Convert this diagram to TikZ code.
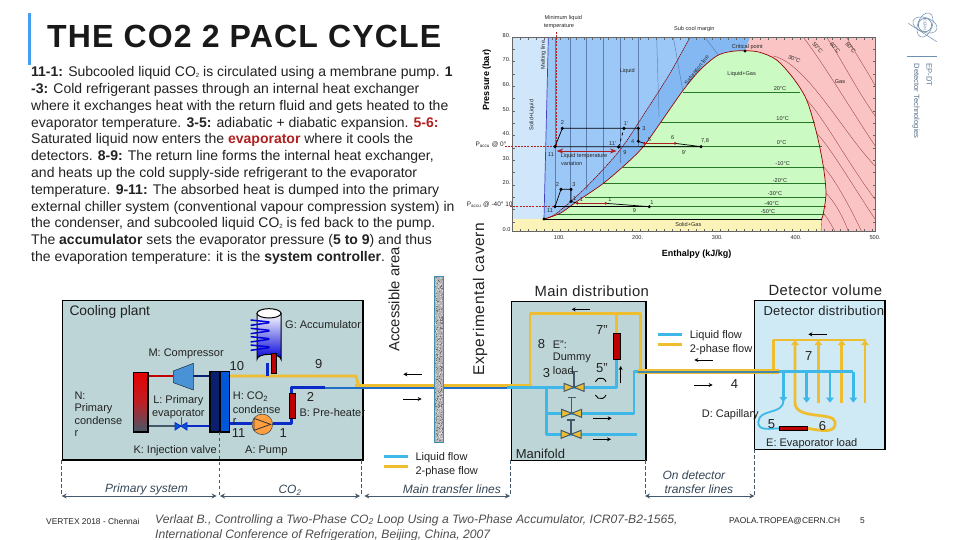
\documentclass[tikz,border=0pt]{standalone}
\usepackage{fontspec}
\setmainfont{Liberation Sans}
\usetikzlibrary{arrows.meta}
\definecolor{plantbg}{HTML}{BDD5D6}
\definecolor{detbg}{HTML}{CFE9F5}
\definecolor{liq}{HTML}{3DB8E8}
\definecolor{twoph}{HTML}{EFBE30}
\definecolor{navy}{HTML}{0A1F6E}
\definecolor{pipeb}{HTML}{0A2BC8}
\definecolor{dimc}{HTML}{44596B}
\definecolor{bordo}{HTML}{B02020}
\definecolor{logoc}{HTML}{6F8FAF}
\definecolor{txt}{HTML}{222222}
\definecolor{liqa}{HTML}{9CC8F8}
\definecolor{liqb}{HTML}{84B8F2}
\definecolor{solliq}{HTML}{CFE6FB}
\definecolor{gasp}{HTML}{FBC4C4}
\definecolor{domeg}{HTML}{CBFBC3}
\definecolor{solgas}{HTML}{FBF3B8}
\definecolor{lqisoc}{HTML}{5F7FB0}
\definecolor{mainblue}{HTML}{1F6FC8}
\tikzset{
 lab/.style={inner sep=0pt,anchor=west,text=txt,font=\fontsize{11}{12}\selectfont},
 big/.style={lab,font=\fontsize{14.8}{16}\selectfont\addfontfeature{LetterSpace=3}},
 num/.style={lab,font=\fontsize{13}{15}\selectfont},
 ital/.style={lab,font=\fontsize{12}{13}\selectfont\itshape,text=dimc!80!black},
 ct/.style={inner sep=0pt,text=black!85,font=\fontsize{5.6}{7}\selectfont},
 z1/.style={shift={(460pt,0pt)},x=0.33333pt,y=-0.33333pt},
 z2/.style={shift={(50pt,-290pt)},x=0.33333pt,y=-0.33333pt},
 z3/.style={shift={(500pt,-280pt)},x=0.33333pt,y=-0.33333pt},
 z5/.style={shift={(890pt,-5pt)},x=0.33333pt,y=-0.33333pt},
 z7/.style={shift={(130pt,-300pt)},x=0.33333pt,y=-0.33333pt},
 pipe/.style={line width=2.8pt,line join=round},
 lq/.style={pipe,draw=liq},
 tp/.style={pipe,draw=twoph},
 nv/.style={pipe,draw=pipeb},
 thinlq/.style={line width=2.4pt,draw=liq,line join=round},
 uptip/.style={-{Triangle[length=5pt,width=7.5pt]}},
 flow/.style={line width=1pt,-{Stealth[length=4pt,width=4pt]},black},
 dimline/.style={line width=1pt,dimc,{Stealth[length=5pt,width=5pt]}-{Stealth[length=5pt,width=5pt]}},
 dimdash/.style={line width=1pt,dimc,dash pattern=on 3.5pt off 2.5pt},
 heater/.style={fill=red!75!black,draw=black,line width=1pt},
 box/.style={draw=black,line width=1.4pt},
 iso/.style={line width=0.5pt,draw=black!55!green!70!gray},
 lqiso/.style={line width=0.45pt,draw=lqisoc},
 gasiso/.style={line width=0.35pt,draw=black!55!red!75},
 cyc/.style={line width=0.7pt,draw=black},
 hot/.style={line width=0.8pt,draw=bordo},
 pt/.style={circle,fill=black,inner sep=0pt,minimum size=3.4pt},
 ptr/.style={circle,fill=bordo,inner sep=0pt,minimum size=3pt},
 refd/.style={line width=0.7pt,draw=bordo,dashed,dash pattern=on 2pt off 1.2pt}
}
\newcommand{\myvalve}[3]{%
 \draw[line width=1.1pt,dimc] (#1,#2) -- (#1,#3);
 \draw[line width=1.1pt,dimc] ({#1-12},#3) -- ({#1+12},#3);
 \fill[twoph] ({#1-30},{#2-12}) -- (#1,#2) -- ({#1-30},{#2+12}) -- cycle;
 \fill[twoph] ({#1+30},{#2-12}) -- (#1,#2) -- ({#1+30},{#2+12}) -- cycle;
 \draw[line width=1pt,dimc] ({#1-30},{#2-12}) -- ({#1+30},{#2+12}) -- ({#1+30},{#2-12}) -- ({#1-30},{#2+12}) -- cycle;
}
\begin{document}
\begin{tikzpicture}[x=1pt,y=-1pt]
\useasboundingbox (0,0) rectangle (960,540);
\fill[white] (0,0) rectangle (960,540);

% ---------- title and text
\fill[liq!80!blue!90] (28,13) rectangle (31,65);
\node[inner sep=0pt,anchor=west,font=\fontsize{32}{36}\selectfont\bfseries\addfontfeature{LetterSpace=3.7},text=black!90] (title) at (47,36) {THE CO2 2 PACL CYCLE};
\node[inner sep=0pt,anchor=north west,align=left,text=txt,font=\fontsize{14}{16.8}\selectfont] (body) at (31,66.3) {%
\textbf{11-1:} Subcooled liquid CO{\raisebox{-0.5pt}{\fontsize{6}{6}\selectfont 2}} is circulated using a membrane pump. \textbf{1}\\
\textbf{-3:} Cold refrigerant passes through an internal heat exchanger\\
where it exchanges heat with the return fluid and gets heated to the\\
evaporator temperature. \textbf{3-5:} adiabatic + diabatic expansion. \textcolor{bordo}{\textbf{5-6:}}\\
Saturated liquid now enters the \textcolor{bordo}{\textbf{evaporator}} where it cools the\\
detectors. \textbf{8-9:} The return line forms the internal heat exchanger,\\
and heats up the cold supply-side refrigerant to the evaporator\\
temperature. \textbf{9-11:} The absorbed heat is dumped into the primary\\
external chiller system (conventional vapour compression system) in\\
the condenser, and subcooled liquid CO{\raisebox{-0.5pt}{\fontsize{6}{6}\selectfont 2}} is fed back to the pump.\\
The \textbf{accumulator} sets the evaporator pressure (\textbf{5 to 9}) and thus\\
the evaporation temperature: it is the \textbf{system controller}.};

% ---------- chart
\begin{scope}[z1]
\fill[gasp] (157,112) rectangle (1247,695);
\fill[liqb] plot[smooth] coordinates {(252,657) (300,640) (350,605) (430,550) (500,490) (550,440) (600,370) (670,270) (720,210) (770,168) (810,155) (855,152)} -- (870,112) -- (265,112) -- cycle;
\fill[liqa] plot[smooth] coordinates {(252,657) (290,640) (380,560) (480,450) (560,330) (630,220) (690,112)} -- (265,112) -- cycle;
\fill[solliq] (157,112) -- (265,112) -- (252,657) -- (157,657) -- cycle;
\fill[solgas] (157,657) -- (1085,657) -- (1083,695) -- (157,695) -- cycle;
\fill[domeg] plot[smooth] coordinates {(252,657) (300,640) (350,605) (430,550) (500,490) (550,440) (600,370) (670,270) (720,210) (770,168) (810,155) (855,152) (900,157) (950,180) (1000,235) (1040,300) (1070,400) (1090,500) (1098,580) (1090,640) (1085,657)} -- cycle;
% liquid isotherms
\foreach \a/\b/\c/\d in {285/112/285/620,330/112/330/600,378/112/378/570,430/112/430/550,480/112/480/490,535/112/535/440,590/112/597/350,640/112/668/270,735/112/775/165}
  \draw[lqiso] (\a,\b) -- (\c,\d);
% two-phase isotherms
\foreach \y/\a/\b in {277/670/1020,366/600/1065,440/540/1085,502/490/1092,550/430/1095,592/375/1097,620/330/1098,643/290/1095}
  \draw[iso] (\a,\y) -- (\b,\y);
% gas isotherms
\draw[gasiso] (940,168) .. controls (1040,190) and (1150,400) .. (1247,500);
\draw[gasiso] (1040,300) .. controls (1090,350) and (1170,500) .. (1247,600);
\draw[gasiso] (1070,400) .. controls (1110,440) and (1180,560) .. (1247,660);
\draw[gasiso] (1090,500) .. controls (1120,530) and (1170,620) .. (1205,695);
\draw[gasiso] (1098,580) .. controls (1120,600) and (1150,650) .. (1165,695);
\draw[gasiso] (1090,640) .. controls (1100,650) and (1115,675) .. (1125,695);
\draw[gasiso] (1030,112) .. controls (1090,190) and (1180,340) .. (1247,440);
\draw[gasiso] (1100,112) .. controls (1140,170) and (1190,270) .. (1247,350);
\draw[gasiso] (1160,112) .. controls (1180,150) and (1220,210) .. (1247,260);
\draw[gasiso] (1083,695) -- (1085,657);
% boundaries
\draw[line width=0.7pt,blue!50!gray] (265,112) -- (252,657);
\draw[line width=0.6pt,draw=red!50!black,dash pattern=on 1.5pt off 0.6pt] plot[smooth] coordinates {(252,657) (290,640) (380,560) (480,450) (560,330) (630,220) (690,112)};
\draw[line width=0.7pt,red!60!black] plot[smooth] coordinates {(252,657) (300,640) (350,605) (430,550) (500,490) (550,440) (600,370) (670,270) (720,210) (770,168) (810,155) (855,152) (900,157) (950,180) (1000,235) (1040,300) (1070,400) (1090,500) (1098,580) (1090,640) (1085,657)};
\draw[line width=0.6pt,black] (252,657) -- (1085,657);
% frame and ticks
\draw[line width=0.5pt,black!60] (157,112) rectangle (1247,695);
\foreach \x in {180,204,...,1247} {\draw[line width=0.4pt,black!60] (\x,112) -- (\x,120); \draw[line width=0.4pt,black!60] (\x,695) -- (\x,687);}
\foreach \y in {148,185,...,680} {\draw[line width=0.4pt,black!60] (157,\y) -- (166,\y); \draw[line width=0.4pt,black!60] (1247,\y) -- (1238,\y);}
% tick labels
\foreach \v/\y in {80./107,70./180,60./255,50./328,40./400,30./476,20./548} \node[ct,anchor=east] (yt\v) at (152,\y) {\v};
\node[ct,anchor=east] (yt0) at (152,690) {0.0};
\foreach \v/\x in {100./298,200./533,300./772,400./1008,500./1245} \node[ct] (xt\v) at (\x,712) {\v};
\node[inner sep=0pt,rotate=90,font=\fontsize{9}{10}\selectfont\bfseries] (pax) at (80,240) {Pressure (bar)};
\node[inner sep=0pt,font=\fontsize{9}{10}\selectfont\bfseries] (hax) at (710,762) {Enthalpy (kJ/kg)};
% reference dashes
\draw[refd] (135,440) -- (285,440);
\draw[refd] (150,620) -- (285,620);
\draw[refd] (288,95) -- (288,440);
% cycle 0 deg
\coordinate (a11) at (285,440); \coordinate (a2) at (307,385); \coordinate (a1p) at (492,385); \coordinate (a3) at (535,385);
\coordinate (a4) at (535,424); \coordinate (a5) at (553,430); \coordinate (a6) at (645,430); \coordinate (a7) at (723,440); \coordinate (a9) at (476,441);
\draw[cyc] (a11) -- (a2) -- (a3) -- (a4) -- (a5);
\draw[hot] (a5) -- (a6);
\draw[cyc] (a6) -- (a7) -- (a11);
\draw[cyc,dashed] (a9) -- (a1p);
\draw[hot,<->,>=Stealth] (290,453) -- (470,453);
\foreach \p in {a11,a2,a1p,a3,a4,a7,a9} \node[pt] (d\p) at (\p) {};
\foreach \p in {a5,a6} \node[ptr] (d\p) at (\p) {};
% cycle -40 deg
\coordinate (b11) at (285,620); \coordinate (b2) at (303,568); \coordinate (b3) at (333,568); \coordinate (b4) at (333,604);
\coordinate (b5) at (352,610); \coordinate (b6) at (437,610); \coordinate (b7) at (568,620);
\draw[cyc] (b11) -- (b2) -- (b3) -- (b4) -- (b5);
\draw[hot] (b5) -- (b6);
\draw[cyc] (b6) -- (b7);
\draw[line width=1pt,black] (b7) -- (b11);
\foreach \p in {b11,b2,b3,b4,b7} \node[pt] (d\p) at (\p) {};
\foreach \p in {b5,b6} \node[ptr] (d\p) at (\p) {};
\node[pt] (triple) at (252,657) {};
\node[pt] (crit) at (855,153) {};
% chart labels
\foreach \n/\x/\y/\t in {c1/502/212/Liquid,c2/845/222/Liquid+Gas,c3/1140/245/Gas,c4/685/674/Solid+Gas,c5/862/140/Critical point,c6/703/88/Sub cool margin,
 c7/960/265/20°C,c8/968/357/10°C,c9/965/428/0°C,c10/968/490/-10°C,c11/960/541/-20°C,c12/945/580/-30°C,c13/935/612/-40°C,c14/924/635/-50°C,
 c15/307/367/2,c16/498/372/1',c17/552/385/3,c18/518/425/4,c19/568/418/5,c20/638/412/6,c21/735/422/7{,}8,c22/672/458/9',c23/495/457/9,c24/458/430/11',c25/273/464/11,
 c26/292/555/2,c27/342/555/3,c28/344/596/1,c29/364/600/1,c30/450/598/1,c31/576/608/1,c32/523/633/9,c33/270/633/11,c34/310/55/Minimum liquid,c35/297/80/temperature,c36/372/468/Liquid temperature,c37/335/490/variation}
  \node[ct] (\n) at (\x,\y) {\t};
\node[ct,rotate=90] (c38) at (216,345) {Solid+Liquid};
\node[ct,rotate=90] (c39) at (250,165) {Melting line};
\node[ct,rotate=52] (c40) at (710,210) {Saturation line};
\node[ct,rotate=-50] (c41) at (1073,143) {50°C};
\node[ct,rotate=-50] (c42) at (1125,143) {60°C};
\node[ct,rotate=-50] (c43) at (1172,143) {80°C};
\node[ct,rotate=-25] (c44) at (1003,177) {30°C};
\node[ct,font=\fontsize{6.5}{8}\selectfont] (p0) at (93,433) {P\textsubscript{accu} @ 0°};
\node[ct,anchor=west,font=\fontsize{6.5}{8}\selectfont] (p40) at (20,613) {P\textsubscript{accu} @ -40° 10};
\end{scope}

% ---------- logo
\begin{scope}[z5]
\draw[logoc,line width=0.7pt] (105,60) circle[radius=20];
\draw[logoc,line width=0.5pt] (105,60) ellipse[x radius=38,y radius=22,rotate=70];
\draw[logoc,line width=0.5pt] (105,60) ellipse[x radius=38,y radius=22,rotate=-20];
\draw[logoc,line width=0.5pt] (55,55) -- (140,110);
\node[inner sep=0pt,rotate=-90,text=logoc,font=\fontsize{4}{5}\selectfont] (cern) at (105,60) {CERN};
\draw[logoc,line width=1pt] (52,155) -- (142,155);
\node[inner sep=0pt,rotate=-90,anchor=west,text=logoc!80!black,font=\fontsize{7.6}{9}\selectfont] (epdt) at (118,175) {EP-DT};
\node[inner sep=0pt,rotate=-90,anchor=west,text=logoc!80!black,font=\fontsize{7.6}{9}\selectfont] (dettech) at (78,175) {Detector Technologies};
\end{scope}

% ---------- rotated
\node[inner sep=0pt,rotate=90,anchor=west,text=txt,font=\fontsize{14.8}{16}\selectfont] (acc) at (394,352) {Accessible area};
\node[inner sep=0pt,rotate=90,anchor=west,text=txt,font=\fontsize{15.5}{16}\selectfont\addfontfeature{LetterSpace=4.5}] (expc) at (480,376) {Experimental cavern};

% ---------- cooling plant
\begin{scope}[z2]
\node[box,fill=plantbg,inner sep=0pt,minimum width=300.6pt,minimum height=159.3pt,anchor=north west] (plant) at (35,30) {};
% pipes
\draw[tp] (537,258) -- (918,258) -- (925,285) ;
\draw[nv] (725,308) -- (725,293) -- (825,293);
\draw[pipe,draw=red!75!black] (292,258) -- (370,258);
\draw[pipe,draw=navy] (430,258) -- (478,258);
\draw[pipe,draw=dimc] (292,408) -- (375,408);
\draw[nv] (412,408) -- (478,408);
\draw[nv] (536,400) -- (605,400);
\draw[nv] (668,400) -- (725,400) -- (725,385);
% components
\node[box,inner sep=0pt,minimum width=14.6pt,minimum height=59.6pt,top color=red!90!black,bottom color=dimc,middle color=red!65!dimc,anchor=north west] (primcond) at (248,245) {};
\draw[line width=0.5pt,dimc!50!black,fill=cyan!60!blue!75!white] (370,243) -- (430,220) -- (430,300) -- (370,278) -- cycle;
\node[box,inner sep=0pt,fill=navy,minimum width=10pt,minimum height=60.3pt,anchor=north west] (hleft) at (478,243) {};
\node[box,inner sep=0pt,fill=blue!60!cyan!85!black,minimum width=9pt,minimum height=60.3pt,anchor=north west] (hright) at (509,243) {};
\fill[blue!60!cyan!85!black,draw=pipeb,line width=0.9pt] (375,398) -- (393,408) -- (375,420) -- cycle;
\fill[blue!60!cyan!85!black,draw=pipeb,line width=0.9pt] (411,398) -- (393,408) -- (411,420) -- cycle;
\draw[line width=0.9pt,dimc] (393,408) -- (393,380);
\node[circle,draw=black!70,line width=0.6pt,fill=orange!75!white,minimum size=20.5pt,inner sep=0pt] (pump) at (637,403) {};
\draw[line width=0.8pt,black!80] (612,385) -- (662,403) -- (612,421) -- cycle;
\node[heater,inner sep=0pt,minimum width=6.5pt,minimum height=25.3pt,anchor=north west] (preheat) at (716,308) {};
\end{scope}
% accumulator
\begin{scope}[z7]
\draw[pipe,draw=pipeb] (412,190) -- (412,228);
\draw[line width=1pt,draw=black,top color=white,bottom color=blue!85!black] (381,40) -- (381,178) arc[start angle=180,end angle=360,x radius=36,y radius=15] -- (453,40) -- cycle;
\draw[line width=1pt,draw=black,fill=white] (417,40) ellipse[x radius=36,y radius=14];
\foreach \y in {60,85,110,135}{
  \draw[line width=1.5pt,draw=blue!85!black] (362,\y) -- (418,{\y+6});
  \draw[line width=1.5pt,draw=blue!85!black] (362,{\y+16}) -- (418,{\y+8});
}
\node[heater,inner sep=0pt,minimum width=5.5pt,minimum height=20pt,anchor=north west] (accheat) at (422,158) {};
\end{scope}
% cooling plant text
\begin{scope}[z2]
\node[lab,font=\fontsize{13.8}{15}\selectfont] (t1) at (58,65) {Cooling plant};
\foreach \n/\x/\y/\t in {t2/705/105/G: Accumulator,t3/295/190/M: Compressor,t4/73/317/N:,t5/73/355/Primary,t6/73/393/condense,t7/73/432/r,t8/548/358/condense,t9/548/395/r,t10/748/367/B: Pre-heater,t11/250/482/K: Injection valve,t12/585/483/A: Pump}
 \node[lab] (\n) at (\x,\y) {\t};
\node[lab] (t13) at (548,320) {H: CO\textsubscript{2}};
\node[lab,anchor=center] (t14) at (385,333) {L: Primary};
\node[lab,anchor=center] (t15) at (385,372) {evaporator};
\foreach \n/\x/\y/\t in {t16/538/227/10,t17/795/222/9,t18/770/322/2,t19/545/430/11,t20/688/430/1}
 \node[num] (\n) at (\x,\y) {\t};
\node[ital] (t21) at (165,597) {Primary system};
\node[ital] (t22) at (685,600) {CO\textsubscript{2}};
% dimensions
\draw[dimdash] (35,510) -- (35,618);
\draw[dimdash] (507,425) -- (507,618);
\draw[dimdash] (935,510) -- (935,618);
\draw[dimline] (35,618) -- (500,618);
\draw[dimline] (510,618) -- (930,618);
\draw[dimline] (943,618) -- (1380,618);
% flow arrows + legend
\draw[flow] (1115,253) -- (1060,253);
\draw[flow] (1060,327) -- (1115,327);
\draw[lq] (1003,500) -- (1075,500);
\draw[tp] (1003,530) -- (1075,530);
\node[lab] (t23) at (1096,503) {Liquid flow};
\node[lab] (t24) at (1096,545) {2-phase flow};
\node[ital] (t25) at (1058,598) {Main transfer lines};
\end{scope}

% ---------- main distribution
\begin{scope}[z3]
\node[box,fill=plantbg,inner sep=0pt,minimum width=134.7pt,minimum height=159.3pt,anchor=north west] (manif) at (32,62) {};
\node[box,fill=detbg,inner sep=0pt,minimum width=130.3pt,minimum height=149pt,anchor=north west] (detbox) at (762,60) {};
\end{scope}
% main transfer line
\begin{scope}[z2]
\draw[pipe,draw=mainblue] (825,294) -- (1380,294);
\draw[line width=2.4pt,draw=twoph] (915,286) -- (1445,286);
\end{scope}
% wall
\node[draw=liq!55!dimc,line width=1.4pt,fill=black!30,inner sep=0pt,minimum width=9pt,minimum height=166pt,anchor=north west] (wall) at (434,276) {};
\pgfmathsetseed{17}
\foreach \i in {1,...,420} {
  \pgfmathsetmacro{\wx}{435+rnd*7}
  \pgfmathsetmacro{\wy}{277+rnd*163}
  \pgfmathsetmacro{\wc}{int(rnd*2)}
  \ifnum\wc=0 \fill[black!55] (\wx,\wy) rectangle ++(0.7,0.7); \else \fill[white!85!black] (\wx,\wy) rectangle ++(0.7,0.7); \fi
}
\begin{scope}[z3]
\draw[tp] (90,318) -- (90,100) -- (422,100) -- (422,268);
\draw[tp] (350,100) -- (350,160);
\draw[lq] (20,322) -- (350,322) -- (350,240);
\draw[lq] (140,322) -- (140,463) -- (410,463);
\draw[lq] (140,400) -- (402,400) -- (402,275) -- (415,275);
\node[heater,inner sep=0pt,minimum width=6.5pt,minimum height=25.5pt,anchor=north west] (e7) at (340,160) {};
\myvalve{222}{322}{275}
\myvalve{215}{400}{352}
\myvalve{213}{463}{420}
\draw[line width=0.9pt,black] (286,305) arc[start angle=200,end angle=340,radius=17];
\draw[line width=0.9pt,black] (286,345) arc[start angle=160,end angle=20,radius=17];
\draw[flow] (270,88) -- (215,88);
\draw[flow,line width=1.2pt] (362,310) -- (362,258);
\draw[flow] (280,415) -- (335,415);
\draw[flow] (278,478) -- (333,478);
% transfer
\draw[line width=5.2pt,twoph] (415,275) -- (838,275);
\draw[line width=1.7pt,liq!50!dimc] (415,275) -- (838,275);
% detector pipes
\draw[tp] (820,268) -- (820,180) -- (1097,180);
\foreach \x in {955,1025,1095}
 \draw[pipe,draw=twoph,uptip] (\x,368) -- (\x,180);
\draw[pipe,draw=twoph,uptip] (922,445) .. controls (965,452) and (1010,462) .. (1005,425) .. controls (1000,395) and (885,420) .. (885,368) -- (885,180);
\draw[thinlq] (838,275) -- (1060,275);
\foreach \x in {920,990,1060}
 \draw[thinlq,uptip] (\x,275) -- (\x,368);
\draw[thinlq,uptip] (850,275) -- (850,366);
\draw[line width=1.8pt,draw=liq] (850,362) .. controls (850,405) and (778,385) .. (775,425) .. controls (773,455) and (810,445) .. (840,445);
\node[heater,inner sep=0pt,minimum width=27.5pt,minimum height=4.5pt,anchor=north west] (evap) at (838,437) {};
\draw[flow] (980,163) -- (925,163);
\draw[flow] (638,240) -- (583,240);
\draw[flow] (583,315) -- (638,315);
\draw[lq] (475,163) -- (545,163);
\draw[tp] (475,193) -- (545,193);
% text
\node[big] (u1) at (103,34) {Main distribution};
\node[big] (u2) at (805,32) {Detector volume};
\node[lab,font=\fontsize{13}{15}\selectfont\addfontfeature{LetterSpace=2}] (u3) at (790,94) {Detector distribution};
\node[lab,font=\fontsize{13}{15}\selectfont] (u4) at (47,522) {Manifold};
\foreach \n/\x/\y/\t in {u5/158/195/E":,u6/158/235/Dummy,u7/158/272/load,u8/569/167/Liquid flow,u9/569/208/2-phase flow,u10/605/403/D: Capillary,u11/798/492/E: Evaporator load}
 \node[lab] (\n) at (\x,\y) {\t};
\foreach \n/\x/\y/\t in {u12/113/192/8,u13/128/280/3,u14/288/150/7",u15/288/265/5",u16/692/312/4,u17/803/433/5,u18/956/438/6,u19/915/228/7}
 \node[num] (\n) at (\x,\y) {\t};
\node[ital] (u20) at (487,587) {On detector};
\node[ital] (u21) at (493,628) {transfer lines};
\draw[dimdash] (32,540) -- (32,645);
\draw[dimdash] (435,540) -- (435,645);
\draw[dimdash] (763,508) -- (763,645);
\draw[dimline] (435,648) -- (763,648);
\end{scope}

% ---------- footer
\node[inner sep=0pt,anchor=west,text=black!85,font=\fontsize{8.4}{10}\selectfont] (foot1) at (46,521) {VERTEX 2018 - Chennai};
\node[inner sep=0pt,anchor=west,text=black!85,font=\fontsize{8.4}{10}\selectfont] (foot2) at (729,521) {PAOLA.TROPEA@CERN.CH};
\node[inner sep=0pt,anchor=west,text=black!85,font=\fontsize{8.4}{10}\selectfont] (foot3) at (860,521) {5};
\node[inner sep=0pt,anchor=west,text=txt!80,font=\fontsize{12.15}{15}\selectfont\itshape] (ref1) at (155,520) {Verlaat B., Controlling a Two-Phase CO\textsubscript{2} Loop Using a Two-Phase Accumulator, ICR07-B2-1565,};
\node[inner sep=0pt,anchor=west,text=txt!80,font=\fontsize{12.15}{15}\selectfont\itshape] (ref2) at (155,535) {International Conference of Refrigeration, Beijing, China, 2007};
\end{tikzpicture}
\end{document}
